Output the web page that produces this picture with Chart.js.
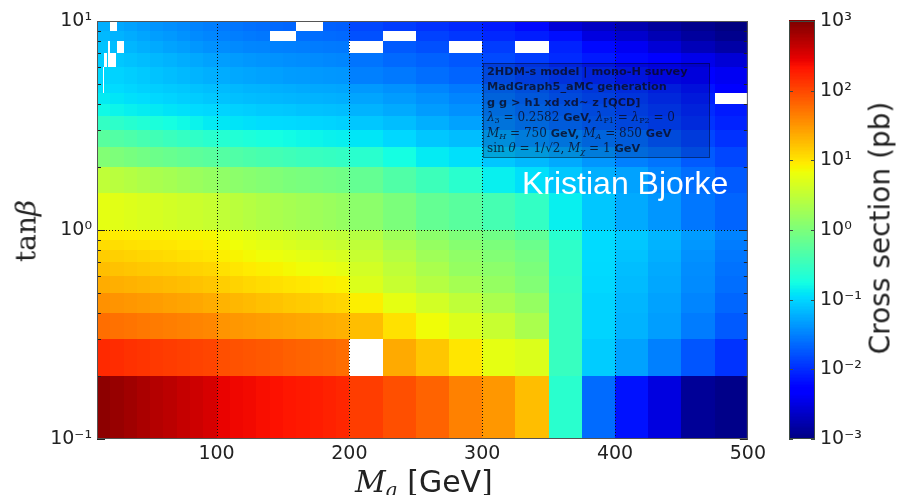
<!DOCTYPE html>
<html>
<head>
<meta charset="utf-8">
<script src="https://cdn.jsdelivr.net/npm/chart.js@4.4.1/dist/chart.umd.min.js"></script>
<style>
  html, body { margin: 0; padding: 0; background: #fff; }
  #wrap { position: relative; width: 897px; height: 495px; overflow: hidden; font-family: 'DejaVu Sans', sans-serif; color: #222; }
  #main { position: absolute; left: 0; top: 0; }
  #cbar { position: absolute; left: 770px; top: 0; }
  .rot { position: absolute; transform: translate(-50%, -50%) rotate(-90deg); white-space: nowrap; line-height: 1; }
  #ytitle { left: 26px; top: 231px; font: 28px 'DejaVu Serif', serif; }
  #ztitle { left: 880px; top: 228px; font: 28px 'DejaVu Sans', sans-serif; }
  #xtitle { position: absolute; left: 355px; top: 464px; white-space: nowrap; line-height: 30px; font: 30px 'DejaVu Sans', sans-serif; }
  #xtitle i { font-family: 'DejaVu Serif', serif; }
  #xtitle sub { font-size: 20px; vertical-align: -5px; line-height: 0; }
  #info { position: absolute; left: 483px; top: 63px; width: 227px; height: 95px; box-sizing: border-box;
    background: rgba(0, 0, 40, 0.17); border: 1px solid rgba(0, 0, 0, 0.4); padding: 0 3px;
    font: bold 11.3px 'DejaVu Sans', sans-serif; line-height: 15.4px; color: rgba(10, 10, 30, 0.8); filter: blur(0.45px); white-space: nowrap; }
  #info .m { font-family: 'DejaVu Serif', serif; font-weight: normal; font-size: 12px; }
  #info sub { font-size: 8px; vertical-align: -2px; line-height: 0; }
  #sign { position: absolute; left: 522px; top: 167px; font: 32px 'Liberation Sans', Arial, sans-serif; line-height: 32px; color: #fff; white-space: nowrap; }
</style>
</head>
<body>
<div id="wrap">
  <canvas id="main" width="770" height="495"></canvas>
  <canvas id="cbar" width="127" height="495"></canvas>
  <div id="ytitle" class="rot">tan<i>β</i></div>
  <div id="ztitle" class="rot">Cross section (pb)</div>
  <div id="xtitle"><i>M</i><sub><i>a</i></sub> [GeV]</div>
  <div id="info">
    <div>2HDM-s model | mono-H survey</div>
    <div>MadGraph5_aMC generation</div>
    <div>g g &gt; h1 xd xd~ z [QCD]</div>
    <div><span class="m"><i>λ</i><sub>3</sub> = 0.2582</span> GeV, <span class="m"><i>λ</i><sub>P1</sub> = <i>λ</i><sub>P2</sub> = 0</span></div>
    <div><span class="m"><i>M<sub>H</sub></i> = 750</span> GeV, <span class="m"><i>M<sub>A</sub></i> = 850</span> GeV</div>
    <div><span class="m">sin <i>θ</i> = 1/√2, <i>M<sub>χ</sub></i> = 1</span> GeV</div>
  </div>
  <div id="sign">Kristian Bjorke</div>
</div>
<script>
"use strict";

Chart.defaults.font.family = "'DejaVu Sans', sans-serif";
Chart.defaults.color = "#222";

// bin edges of the scan
const massEdges = [10, 20, 30, 40, 50, 60, 70, 80, 90, 100, 110, 120, 130, 140, 150, 160, 170, 180, 190, 200,
  225, 250, 275, 300, 325, 350, 375, 400, 425, 450, 475, 500];
const tanBetaEdges = [0.1, 0.2, 0.3, 0.4, 0.5, 0.6, 0.7, 0.8, 0.9, 1, 1.5, 2, 2.5, 3, 3.5, 4, 4.5, 5, 6, 7, 8, 9, 10];

// log10(cross section / pb), one row per tan(beta) band, one entry per mass bin
const tb0p1 = [2.93, 2.88, 2.83, 2.78, 2.73, 2.69, 2.64, 2.6, 2.55, 2.45, 2.42, 2.4, 2.37, 2.35, 2.32, 2.3, 2.28, 2.25, 2.22, 2.07, 1.96, 1.83, 1.64, 1.5, 1.25, -0.6, -1.62, -2.15, -2.5, -2.88, -2.95];
const tb0p2 = [2.2, 2.18, 2.15, 2.13, 2.1, 2.08, 2.06, 2.04, 2.02, 1.96, 1.94, 1.92, 1.9, 1.88, 1.85, 1.83, 1.81, 1.79, 1.76, 1.6, 1.38, 1.2, 1.0, 0.77, 0.7, -0.5, -1.05, -1.3, -1.5, -1.75, -1.95];
const tb0p3 = [1.76, 1.74, 1.72, 1.7, 1.68, 1.66, 1.64, 1.62, 1.6, 1.52, 1.5, 1.48, 1.46, 1.44, 1.42, 1.4, 1.38, 1.36, 1.34, 1.25, 1.03, 0.85, 0.7, 0.55, 0.34, -0.5, -1.0, -1.2, -1.32, -1.52, -1.72];
const tb0p4 = [1.54, 1.52, 1.5, 1.48, 1.46, 1.44, 1.42, 1.4, 1.37, 1.32, 1.3, 1.27, 1.24, 1.22, 1.19, 1.17, 1.15, 1.12, 1.1, 0.94, 0.77, 0.63, 0.49, 0.34, 0.19, -0.5, -1.0, -1.18, -1.3, -1.47, -1.65];
const tb0p5 = [1.37, 1.35, 1.33, 1.31, 1.29, 1.27, 1.25, 1.23, 1.2, 1.15, 1.12, 1.09, 1.06, 1.04, 1.01, 0.99, 0.97, 0.94, 0.92, 0.7, 0.55, 0.42, 0.3, 0.19, 0.05, -0.52, -0.98, -1.15, -1.27, -1.43, -1.6];
const tb0p6 = [1.25, 1.23, 1.21, 1.19, 1.17, 1.16, 1.14, 1.12, 1.1, 1.03, 1.0, 0.97, 0.94, 0.91, 0.88, 0.85, 0.82, 0.8, 0.77, 0.63, 0.49, 0.34, 0.19, 0.12, 0.0, -0.55, -0.97, -1.13, -1.25, -1.42, -1.58];
const tb0p7 = [1.16, 1.14, 1.12, 1.1, 1.08, 1.06, 1.04, 1.02, 1.0, 0.94, 0.91, 0.88, 0.85, 0.82, 0.79, 0.76, 0.73, 0.7, 0.67, 0.55, 0.42, 0.26, 0.15, 0.05, -0.05, -0.55, -0.96, -1.1, -1.22, -1.4, -1.55];
const tb0p8 = [1.06, 1.05, 1.03, 1.02, 1.0, 0.99, 0.97, 0.96, 0.94, 0.88, 0.84, 0.8, 0.76, 0.72, 0.68, 0.65, 0.62, 0.58, 0.55, 0.49, 0.34, 0.19, 0.08, 0.0, -0.12, -0.57, -0.96, -1.08, -1.2, -1.36, -1.52];
const tb0p9 = [0.97, 0.96, 0.95, 0.94, 0.93, 0.92, 0.91, 0.9, 0.89, 0.82, 0.78, 0.74, 0.7, 0.66, 0.62, 0.58, 0.55, 0.52, 0.49, 0.42, 0.26, 0.12, 0.02, -0.08, -0.2, -0.6, -0.95, -1.07, -1.18, -1.33, -1.48];
const tb1p0 = [0.77, 0.74, 0.71, 0.68, 0.66, 0.63, 0.6, 0.58, 0.55, 0.5, 0.46, 0.42, 0.38, 0.34, 0.31, 0.28, 0.25, 0.22, 0.19, 0.12, 0.0, -0.17, -0.25, -0.4, -0.53, -0.84, -1.08, -1.25, -1.37, -1.55, -1.66];
const tb1p5 = [0.49, 0.45, 0.41, 0.37, 0.33, 0.3, 0.26, 0.22, 0.19, 0.15, 0.12, 0.09, 0.06, 0.03, 0.0, -0.02, -0.04, -0.06, -0.08, -0.17, -0.32, -0.46, -0.6, -0.84, -0.93, -1.08, -1.22, -1.3, -1.46, -1.6, -1.72];
const tb2p0 = [0.05, 0.01, -0.03, -0.07, -0.11, -0.14, -0.18, -0.22, -0.25, -0.29, -0.32, -0.35, -0.38, -0.41, -0.44, -0.47, -0.49, -0.51, -0.53, -0.6, -0.75, -0.87, -0.93, -1.08, -1.16, -1.25, -1.37, -1.5, -1.57, -1.72, -1.84];
const tb2p5 = [-0.25, -0.3, -0.34, -0.39, -0.43, -0.48, -0.52, -0.56, -0.6, -0.63, -0.66, -0.69, -0.72, -0.75, -0.77, -0.79, -0.81, -0.83, -0.84, -0.9, -0.98, -1.08, -1.13, -1.25, -1.37, -1.43, -1.54, -1.6, -1.72, -1.84, -1.96];
const tb3p0 = [-0.53, -0.57, -0.62, -0.66, -0.7, -0.74, -0.78, -0.82, -0.87, -0.89, -0.91, -0.93, -0.95, -0.96, -0.97, -0.98, -0.99, -1.0, -1.02, -1.08, -1.13, -1.22, -1.3, -1.43, -1.52, -1.6, -1.68, -1.76, -1.85, -1.95, -2.05];
const tb3p5 = [-0.78, -0.81, -0.84, -0.86, -0.88, -0.91, -0.93, -0.96, -0.98, -1.0, -1.02, -1.04, -1.06, -1.07, -1.08, -1.1, -1.11, -1.12, -1.13, -1.2, -1.25, -1.33, -1.4, -1.5, -1.58, -1.66, -1.74, -1.82, -1.9, -2.0, -2.1];
const tb4p0 = [-0.87, -0.9, -0.93, -0.95, -0.98, -1.0, -1.03, -1.05, -1.08, -1.1, -1.12, -1.14, -1.15, -1.17, -1.18, -1.19, -1.2, -1.21, -1.22, -1.28, -1.33, -1.4, -1.47, -1.55, -1.63, -1.72, -1.8, -1.88, -1.97, -2.07, -2.15];
const tb4p5 = [-0.93, -0.96, -0.99, -1.02, -1.04, -1.06, -1.08, -1.11, -1.13, -1.15, -1.17, -1.19, -1.2, -1.22, -1.23, -1.25, -1.26, -1.27, -1.28, -1.35, -1.4, -1.47, -1.54, -1.62, -1.7, -1.78, -1.86, -1.95, -2.04, -2.14, -2.25];
const tb5p0 = [-0.98, -1.01, -1.04, -1.07, -1.1, -1.13, -1.16, -1.19, -1.22, -1.24, -1.26, -1.28, -1.3, -1.31, -1.33, -1.34, -1.35, -1.36, -1.37, -1.5, -1.54, -1.6, -1.66, -1.74, -1.82, -1.9, -2.0, -2.1, -2.2, -2.3, -2.4];
const tb6p0 = [-1.05, -1.08, -1.11, -1.14, -1.17, -1.2, -1.23, -1.26, -1.3, -1.32, -1.34, -1.36, -1.38, -1.39, -1.41, -1.42, -1.43, -1.45, -1.46, -1.57, -1.63, -1.68, -1.74, -1.82, -1.9, -2.0, -2.1, -2.2, -2.32, -2.45, -2.55];
const tb7p0 = [-1.1, -1.14, -1.18, -1.22, -1.25, -1.29, -1.32, -1.36, -1.4, -1.42, -1.44, -1.46, -1.47, -1.49, -1.5, -1.51, -1.52, -1.53, -1.54, -1.66, -1.72, -1.78, -1.84, -1.9, -1.97, -2.05, -2.2, -2.4, -2.55, -2.7, -2.8];
const tb8p0 = [-1.16, -1.2, -1.24, -1.28, -1.32, -1.35, -1.39, -1.43, -1.46, -1.49, -1.51, -1.53, -1.55, -1.57, -1.58, -1.6, -1.61, -1.62, -1.63, -1.78, -1.82, -1.87, -1.93, -2.02, -2.08, -2.17, -2.5, -2.6, -2.73, -2.84, -2.93];
const tb9p0 = [-1.22, -1.26, -1.3, -1.34, -1.38, -1.41, -1.44, -1.48, -1.51, -1.54, -1.56, -1.59, -1.61, -1.63, -1.65, -1.66, -1.67, -1.68, -1.69, -1.84, -1.9, -1.96, -2.02, -2.1, -2.2, -2.55, -2.65, -2.76, -2.86, -2.93, -3.0];

const xsecRows = [tb0p1, tb0p2, tb0p3, tb0p4, tb0p5, tb0p6, tb0p7, tb0p8, tb0p9, tb1p0, tb1p5,
  tb2p0, tb2p5, tb3p0, tb3p5, tb4p0, tb4p5, tb5p0, tb6p0, tb7p0, tb8p0, tb9p0];

// points where generation failed: [mMin, mMax, tbMin, tbMax]
const failedCells = [
  [20, 25, 9, 10], [25, 30, 7, 8], [18.5, 19.5, 6, 8], [15.5, 17.5, 6, 7], [20, 24, 6, 7], [14.5, 15.5, 4.5, 6],
  [140, 160, 8, 9], [160, 180, 9, 10], [200, 225, 7, 8], [225, 250, 8, 9], [275, 300, 7, 8],
  [325, 350, 7, 8], [475, 500, 4, 4.5], [200, 225, 0.2, 0.3]
];

const massTicks = [100, 200, 300, 400, 500];
const tanBetaTicks = [0.1, 0.2, 0.3, 0.4, 0.5, 0.6, 0.7, 0.8, 0.9, 1, 2, 3, 4, 5, 6, 7, 8, 9, 10];
const xsecTicks = [1e-3, 1e-2, 1e-1, 1, 10, 100, 1000];

// matplotlib "jet"
function jet(t) {
  t = Math.min(1, Math.max(0, t));
  const seg = (pts) => {
    for (let k = 1; k < pts.length; k++) {
      if (t <= pts[k][0]) {
        const [a, va] = pts[k - 1], [b, vb] = pts[k];
        return va + (vb - va) * (t - a) / (b - a);
      }
    }
    return pts[pts.length - 1][1];
  };
  const r = seg([[0, 0], [0.35, 0], [0.66, 1], [0.89, 1], [1, 0.5]]);
  const g = seg([[0, 0], [0.125, 0], [0.375, 1], [0.64, 1], [0.91, 0], [1, 0]]);
  const b = seg([[0, 0.5], [0.11, 1], [0.34, 1], [0.65, 0], [1, 0]]);
  return `rgb(${Math.round(r * 255)},${Math.round(g * 255)},${Math.round(b * 255)})`;
}
const colorOf = (lg) => jet((lg + 3) / 6);

const SUP = { "-": "⁻", "0": "⁰", "1": "¹", "2": "²", "3": "³" };
function decadeLabel(v) {
  const e = Math.round(Math.log10(v));
  if (Math.abs(Math.log10(v) - e) > 1e-6) return "";
  return "10" + String(e).split("").map(c => SUP[c]).join("");
}

function px(scale, v) { return Math.round(scale.getPixelForValue(v)); }

const heatmap = {
  id: "heatmap",
  beforeDatasetsDraw(chart) {
    const { ctx, chartArea: a, scales: { x, y } } = chart;
    ctx.save();
    ctx.beginPath();
    ctx.rect(a.left, a.top, a.right - a.left, a.bottom - a.top);
    ctx.clip();
    xsecRows.forEach((row, j) => {
      const y0 = px(y, tanBetaEdges[j + 1]), y1 = px(y, tanBetaEdges[j]);
      row.forEach((lg, i) => {
        const x0 = px(x, massEdges[i]), x1 = px(x, massEdges[i + 1]);
        ctx.fillStyle = colorOf(lg);
        ctx.fillRect(x0, y0, x1 - x0, y1 - y0);
      });
    });
    ctx.fillStyle = "#fff";
    failedCells.forEach(([m0, m1, t0, t1]) => {
      const x0 = px(x, m0), x1 = px(x, m1), y0 = px(y, t1), y1 = px(y, t0);
      ctx.fillRect(x0, y0, Math.max(1, x1 - x0), y1 - y0);
    });
    ctx.restore();
  },
  afterDatasetsDraw(chart) {
    const { ctx, chartArea: a, scales: { x, y } } = chart;
    ctx.save();
    // dotted grid at the labelled ticks
    ctx.strokeStyle = "#111";
    ctx.lineWidth = 1;
    ctx.setLineDash([1, 2]);
    massTicks.slice(0, -1).forEach(m => {
      const p = px(x, m) + 0.5;
      ctx.beginPath(); ctx.moveTo(p, a.top); ctx.lineTo(p, a.bottom); ctx.stroke();
    });
    const p1 = px(y, 1) + 0.5;
    ctx.beginPath(); ctx.moveTo(a.left, p1); ctx.lineTo(a.right, p1); ctx.stroke();
    ctx.setLineDash([]);
    // inward ticks on both sides
    ctx.strokeStyle = "#222";
    tanBetaTicks.forEach(t => {
      const p = px(y, t) + 0.5;
      const len = decadeLabel(t) ? 8 : 4;
      ctx.beginPath();
      ctx.moveTo(a.left, p); ctx.lineTo(a.left + len, p);
      ctx.moveTo(a.right, p); ctx.lineTo(a.right - len, p);
      ctx.stroke();
    });
    ctx.strokeStyle = "#555";
    ctx.strokeRect(a.left + 0.5, a.top + 0.5, a.right - a.left - 1, a.bottom - a.top - 1);
    ctx.restore();
  }
};

new Chart(document.getElementById("main"), {
  type: "scatter",
  data: { datasets: [] },
  plugins: [heatmap],
  options: {
    responsive: false, animation: false, events: [],
    layout: { padding: { left: 0, top: 21, right: 21, bottom: 0 } },
    plugins: { legend: { display: false }, tooltip: { enabled: false } },
    scales: {
      x: {
        type: "linear", min: 10, max: 500,
        grid: { display: false, drawTicks: false }, border: { display: false },
        afterBuildTicks: s => { s.ticks = massTicks.map(v => ({ value: v })); },
        afterFit: s => { s.height = 56; },
        ticks: { autoSkip: false, maxRotation: 0, padding: 4, font: { size: 19 }, callback: v => String(v) }
      },
      y: {
        type: "logarithmic", min: 0.1, max: 10,
        grid: { display: false, drawTicks: false }, border: { display: false },
        afterBuildTicks: s => { s.ticks = tanBetaTicks.map(v => ({ value: v })); },
        afterFit: s => { s.width = 97; },
        ticks: { autoSkip: false, padding: 5, font: { size: 19 }, callback: v => decadeLabel(v) }
      }
    }
  }
});

const colorbar = {
  id: "colorbar",
  beforeDatasetsDraw(chart) {
    const { ctx, chartArea: a, scales: { y } } = chart;
    ctx.save();
    const step = 0.02;
    for (let lg = -3; lg < 3; lg += step) {
      const top = y.getPixelForValue(Math.pow(10, lg + step));
      const bot = y.getPixelForValue(Math.pow(10, lg));
      ctx.fillStyle = colorOf(lg + step / 2);
      ctx.fillRect(a.left, Math.floor(top), a.right - a.left, Math.ceil(bot) - Math.floor(top));
    }
    ctx.strokeStyle = "#3d4a44";
    ctx.lineWidth = 1;
    xsecTicks.forEach(v => {
      const p = px(y, v) + 0.5;
      ctx.beginPath();
      ctx.moveTo(a.left, p); ctx.lineTo(a.left + 4, p);
      ctx.moveTo(a.right, p); ctx.lineTo(a.right - 4, p);
      ctx.stroke();
    });
    ctx.strokeRect(a.left + 0.5, a.top + 0.5, a.right - a.left - 1, a.bottom - a.top - 1);
    ctx.restore();
  }
};

new Chart(document.getElementById("cbar"), {
  type: "scatter",
  data: { datasets: [] },
  plugins: [colorbar],
  options: {
    responsive: false, animation: false, events: [],
    layout: { padding: { left: 19, top: 21, right: 0, bottom: 56 } },
    plugins: { legend: { display: false }, tooltip: { enabled: false } },
    scales: {
      x: { display: false, min: 0, max: 1 },
      y: {
        type: "logarithmic", position: "right", min: 1e-3, max: 1e3,
        grid: { display: false, drawTicks: false }, border: { display: false },
        afterBuildTicks: s => { s.ticks = xsecTicks.map(v => ({ value: v })); },
        afterFit: s => { s.width = 82; },
        ticks: { autoSkip: false, padding: 5, font: { size: 19 }, callback: v => decadeLabel(v) }
      }
    }
  }
});
</script>
</body>
</html>
